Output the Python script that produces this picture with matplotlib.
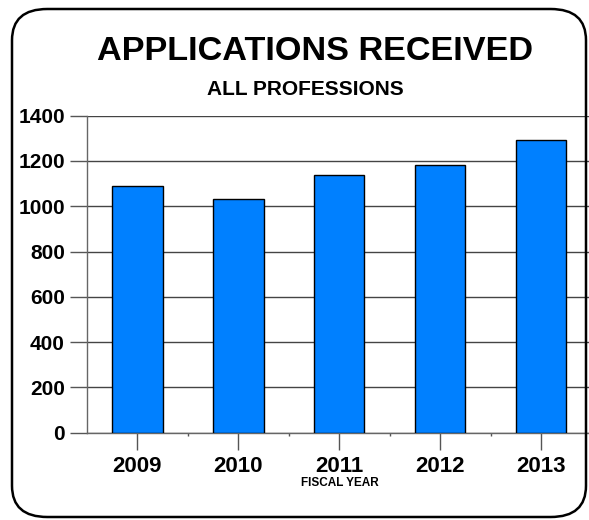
import matplotlib.pyplot as plt
from matplotlib.patches import FancyBboxPatch

plt.rcParams['font.family'] = ['Liberation Sans', 'DejaVu Sans']

years = ['2009', '2010', '2011', '2012', '2013']
applications = [1090, 1032, 1138, 1181, 1291]
y_ticks = [0, 200, 400, 600, 800, 1000, 1200, 1400]

fig = plt.figure(figsize=(5.89, 5.2), dpi=100)

# rounded frame round the whole chart
frame = FancyBboxPatch((12 / 589, 3 / 520), 574 / 589, 508 / 520,
                       boxstyle="round,pad=0,rounding_size=0.06",
                       transform=fig.transFigure, fill=False,
                       edgecolor='black', linewidth=1.8, zorder=0)
fig.patches.append(frame)

ax = fig.add_axes([87 / 589, 0.168, 504.5 / 589, 0.6096])
x = list(range(len(years)))
ax.bar(x, applications, width=0.5, color='#0080ff', edgecolor='black',
       linewidth=1, zorder=3)

ax.set_xlim(-0.5, 4.5)
ax.set_ylim(0, 1400)
ax.set_yticks(y_ticks)
ax.set_yticklabels([str(v) for v in y_ticks], fontsize=15, fontweight='bold')
ax.set_xticks(x)
ax.set_xticklabels(years, fontsize=16, fontweight='bold')
ax.set_xticks([0.5, 1.5, 2.5, 3.5], minor=True)
ax.tick_params(axis='y', length=12, width=1, color='#555555', pad=4)
ax.tick_params(axis='x', which='major', length=12, width=1, color='#555555', pad=4.5)
ax.tick_params(axis='x', which='minor', length=2, width=1, color='#555555')

ax.grid(axis='y', color='#444444', linewidth=1, zorder=1)
for side in ['top', 'right']:
    ax.spines[side].set_visible(False)
ax.spines['left'].set_color('#666666')
ax.spines['bottom'].set_color('#666666')
ax.spines['left'].set_linewidth(1)
ax.spines['bottom'].set_linewidth(1)

fig.text(315 / 589, 1 - 52 / 520, 'APPLICATIONS RECEIVED', ha='center',
         va='center', fontsize=24.7, fontweight='bold')
fig.text(305 / 589, 1 - 89 / 520, 'ALL PROFESSIONS', ha='center',
         va='center', fontsize=15, fontweight='bold')
fig.text(339.5 / 589, 1 - 483 / 520, 'FISCAL YEAR', ha='center',
         va='center', fontsize=8.5, fontweight='bold')

fig.savefig('out.png', dpi=100)
